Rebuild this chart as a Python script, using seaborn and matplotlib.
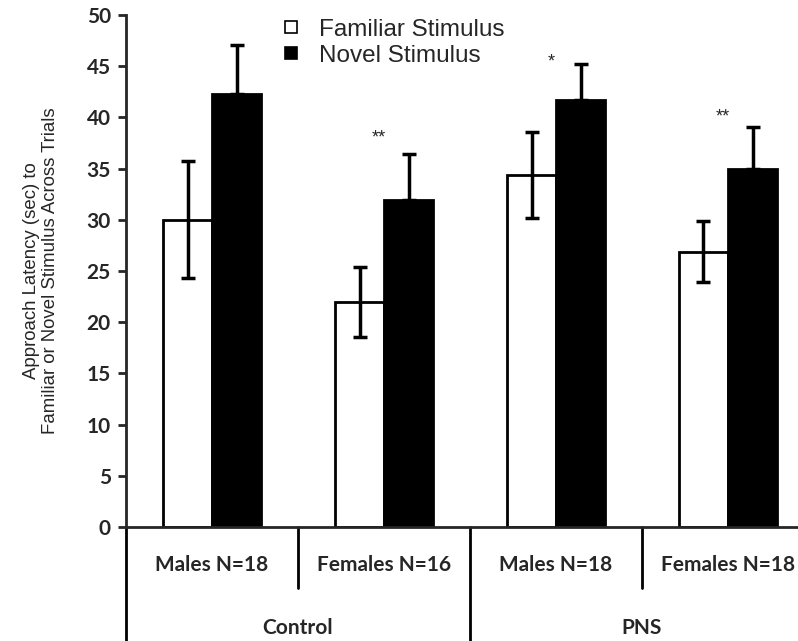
import matplotlib.pyplot as plt
import matplotlib.transforms as mtransforms
from matplotlib.lines import Line2D
import seaborn as sns
import pandas as pd

# values
groups = ["Control", "Control", "PNS", "PNS"]
subgroups = ["Males N=18", "Females N=16", "Males N=18", "Females N=18"]
stimuli = ["Familiar Stimulus", "Novel Stimulus"]
familiar_mean = [30.0, 22.0, 34.4, 26.9]
familiar_err = [5.7, 3.4, 4.2, 3.0]
novel_mean = [42.3, 31.9, 41.7, 35.0]
novel_err = [4.8, 4.5, 3.5, 4.1]
# significance marks: (category index, y value, text)
stars = [(1, 38.0, "**"), (2, 45.4, "*"), (3, 40.0, "**")]


def build_data_set():
    rows = []
    for i, sub in enumerate(subgroups):
        label = f"{groups[i]}|{sub}"
        rows.append((label, stimuli[0], familiar_mean[i], familiar_err[i]))
        rows.append((label, stimuli[1], novel_mean[i], novel_err[i]))
    return pd.DataFrame(rows, columns=["cat", "stim", "latency", "err"])


def main():
    sns.set_style("white")
    df = build_data_set()

    fig = plt.figure(figsize=(7.98, 6.41), dpi=100)
    ax = fig.add_axes([0.158, 0.1778, 0.842, 0.7988])

    sns.barplot(data=df, x="cat", y="latency", hue="stim", hue_order=stimuli,
                palette=["white", "black"], edgecolor="black", linewidth=2,
                width=0.57, errorbar=None, legend=False, ax=ax)

    # error bars on top of the bars
    for k, stim in enumerate(stimuli):
        sub = df[df["stim"] == stim]
        bars = ax.containers[k]
        xs = [p.get_x() + p.get_width() / 2 for p in bars]
        if k == 0:
            yerr = sub["err"].values
        else:
            yerr = [[0] * len(sub), sub["err"].values]
        ax.errorbar(xs, sub["latency"].values, yerr=yerr, fmt="none",
                    ecolor="black", elinewidth=2.5, capsize=5, capthick=2.5,
                    zorder=5)

    for idx, yv, txt in stars:
        ax.text(idx - 0.03, yv, txt, ha="center", va="center", fontsize=13,
                family="Liberation Sans")

    ax.set_ylim(0, 50)
    ax.set_xlim(-0.5, 3.407)
    ax.set_yticks(range(0, 51, 5))
    ax.set_xticks([])
    ax.set_xlabel("")
    ax.set_ylabel("Approach Latency (sec) to\nFamiliar or Novel Stimulus Across Trials",
                  fontsize=13.4, family="Liberation Sans", labelpad=20,
                  linespacing=1.1)
    for lab in ax.get_yticklabels():
        lab.set_family("Lato")
        lab.set_fontweight("bold")
        lab.set_fontsize(15)
    ax.tick_params(axis="y", direction="out", length=6, width=2, left=True, pad=5)
    sns.despine(ax=ax, top=True, right=True)
    ax.spines["left"].set_linewidth(2)
    ax.spines["bottom"].set_linewidth(2)

    # category axis drawn below the plot
    trans = mtransforms.blended_transform_factory(ax.transData, ax.transAxes)
    ax.add_line(Line2D([-0.5, -0.5], [0, -0.23], transform=trans, color="black",
                       lw=2, clip_on=False))
    for xd, low in [(0.5, -0.119), (1.5, -0.23), (2.5, -0.119)]:
        ax.add_line(Line2D([xd, xd], [0, low], transform=trans, color="black",
                           lw=2, clip_on=False))
    for i, sub in enumerate(subgroups):
        ax.text(i, -0.074, sub, transform=trans, ha="center", va="center",
                fontsize=15, family="Lato", fontweight="bold")
    for xd, g in [(0.5, "Control"), (2.5, "PNS")]:
        ax.text(xd, -0.197, g, transform=trans, ha="center", va="center",
                fontsize=15, family="Lato", fontweight="bold")

    handles = [Line2D([], [], marker="s", ls="none", markersize=8,
                      markerfacecolor=c, markeredgecolor="black", markeredgewidth=1.2)
               for c in ["white", "black"]]
    ax.legend(handles, stimuli, loc="upper left", bbox_to_anchor=(0.195, 1.035),
              frameon=False, prop={"family": "Liberation Sans", "size": 17.5},
              handletextpad=0.65, labelspacing=0.15, handlelength=1.0)

    plt.savefig("out.png", dpi=100)


main()
